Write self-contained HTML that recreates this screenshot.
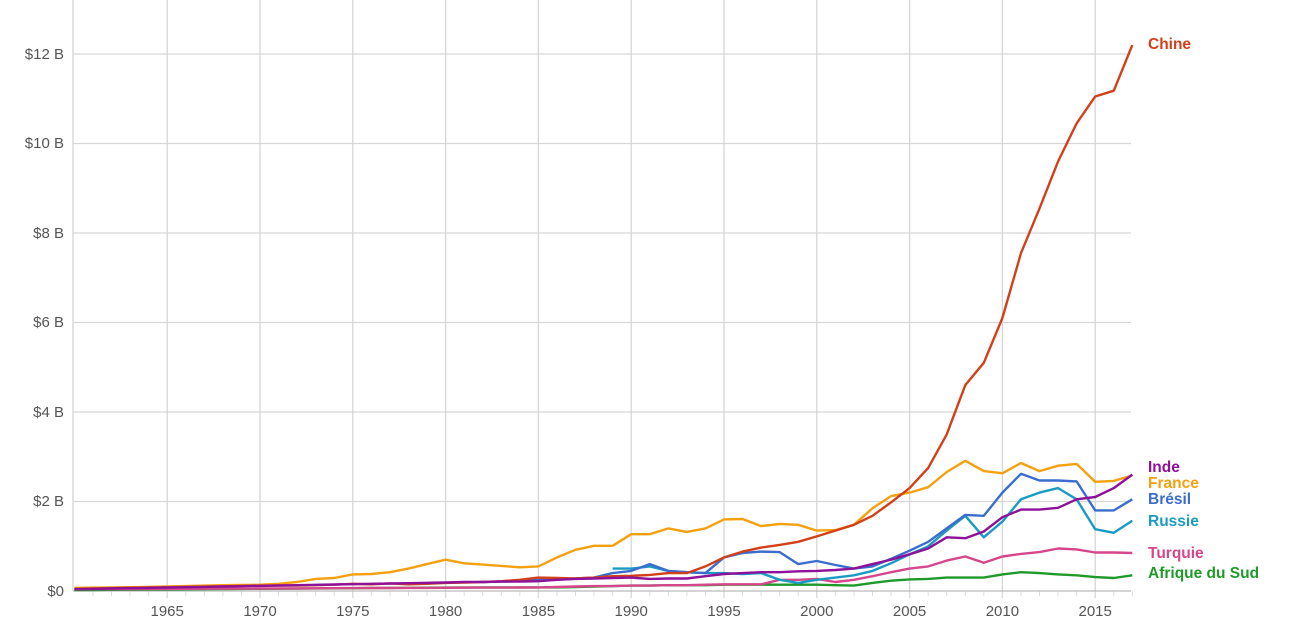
<!DOCTYPE html><html><head><meta charset="utf-8"><style>body{margin:0;background:#fff;}svg{display:block}text{font-family:"Liberation Sans",Arial,sans-serif}</style></head><body>
<svg id="c" width="1289" height="625" xmlns="http://www.w3.org/2000/svg">
<g id="grid"></g><g id="lines"></g>
<g font-size="15" fill="#555" text-anchor="end">
<text x="64" y="596">$0</text><text x="64" y="506">$2 B</text><text x="64" y="417">$4 B</text><text x="64" y="327">$6 B</text><text x="64" y="238">$8 B</text><text x="64" y="148">$10 B</text><text x="64" y="59">$12 B</text></g>
<g font-size="15" fill="#555" text-anchor="middle" id="xl"></g>
<g font-size="15.5" font-weight="bold">
<text x="1148" y="49" fill="#d2401a">Chine</text>
<text x="1148" y="472" fill="#8e1199">Inde</text>
<text x="1148" y="488" fill="#f5a00f">France</text>
<text x="1148" y="504" fill="#3b6dce">Brésil</text>
<text x="1148" y="526" fill="#1a9bc4">Russie</text>
<text x="1148" y="558" fill="#d6468a">Turquie</text>
<text x="1148" y="578" fill="#1f9a2a">Afrique du Sud</text></g>
</svg>
<script>
var NS="http://www.w3.org/2000/svg";
function X(y){return 74.4+(y-1960)*18.56}function Y(v){return 591-v*44.75}
var g=document.getElementById('grid'),xl=document.getElementById('xl');
function el(p,t,a){var e=document.createElementNS(NS,t);for(var k in a)e.setAttribute(k,a[k]);p.appendChild(e);return e}
for(var v=2;v<=12;v+=2)el(g,'line',{x1:73,x2:1131,y1:Y(v),y2:Y(v),stroke:'#d6d6d6','stroke-width':1.3});
el(g,'line',{x1:73,x2:73,y1:0,y2:591,stroke:'#d6d6d6','stroke-width':1.3});
for(var y=1965;y<=2015;y+=5){el(g,'line',{x1:X(y),x2:X(y),y1:0,y2:598,stroke:'#d6d6d6','stroke-width':1.3});var t=el(xl,'text',{x:X(y),y:616});t.textContent=y;}
for(var y=1961;y<=2017;y++)el(g,'line',{x1:X(y),x2:X(y),y1:591,y2:596,stroke:'#ddd'});
el(g,'line',{x1:73,x2:1131,y1:591,y2:591,stroke:'#bbb','stroke-width':1.3});
function lin(a,b,n,s){var r=[];for(var i=0;i<n;i++)r.push(+(a+(b-a)*i/(n-1)).toFixed(3));return r}
var S=[
['#1f9a2a',1960,lin(0.02,0.08,22).concat([0.08,0.08,0.08,0.08,0.08,0.09,0.1,0.11,0.12,0.12,0.13,0.13,0.13,0.14,0.14,0.14,0.14,0.14,0.14,0.13,0.12,0.18,0.23,0.26,0.27,0.3,0.3,0.3,0.37,0.42,0.4,0.37,0.35,0.31,0.29,0.35])],
['#d6468a',1960,lin(0.04,0.08,26).concat([0.09,0.1,0.11,0.11,0.12,0.12,0.13,0.13,0.14,0.15,0.15,0.15,0.25,0.25,0.27,0.2,0.25,0.33,0.42,0.5,0.55,0.68,0.77,0.63,0.77,0.83,0.87,0.95,0.93,0.86,0.86,0.85])],
['#1a9bc4',1989,[0.5,0.5,0.55,0.45,0.42,0.4,0.4,0.38,0.4,0.25,0.18,0.25,0.3,0.35,0.45,0.62,0.82,1.0,1.35,1.68,1.2,1.55,2.05,2.2,2.3,2.05,1.38,1.3,1.57]],
['#3b6dce',1982,[0.2,0.21,0.22,0.25,0.27,0.28,0.3,0.4,0.45,0.6,0.45,0.42,0.4,0.75,0.85,0.88,0.87,0.6,0.67,0.58,0.5,0.55,0.72,0.9,1.1,1.4,1.7,1.68,2.2,2.62,2.47,2.47,2.45,1.8,1.8,2.05]],
['#f5a00f',1960,[0.07,0.075,0.08,0.085,0.09,0.1,0.11,0.12,0.13,0.135,0.14,0.16,0.2,0.27,0.29,0.37,0.38,0.42,0.5,0.6,0.7,0.62,0.59,0.56,0.53,0.55,0.75,0.92,1.01,1.01,1.27,1.27,1.4,1.32,1.4,1.6,1.61,1.45,1.5,1.48,1.35,1.36,1.48,1.85,2.12,2.2,2.32,2.66,2.91,2.68,2.63,2.86,2.68,2.8,2.84,2.44,2.46,2.58]],
['#d2401a',1960,lin(0.05,0.12,11).concat([0.12,0.12,0.13,0.14,0.16,0.15,0.17,0.15,0.16,0.18,0.19,0.2,0.22,0.25,0.3,0.29,0.28,0.3,0.33,0.34,0.36,0.4,0.4,0.55,0.75,0.88,0.97,1.03,1.1,1.22,1.35,1.48,1.68,1.98,2.3,2.75,3.5,4.6,5.1,6.1,7.55,8.55,9.6,10.45,11.05,11.18,12.2])],
['#8e1199',1960,lin(0.04,0.19,21).concat([0.2,0.2,0.21,0.21,0.22,0.25,0.27,0.28,0.29,0.3,0.27,0.28,0.28,0.33,0.38,0.4,0.42,0.42,0.44,0.45,0.47,0.5,0.6,0.7,0.82,0.95,1.2,1.18,1.33,1.65,1.82,1.82,1.86,2.05,2.1,2.3,2.6])]];
var L=document.getElementById('lines');
S.forEach(function(s){var p=s[2].map(function(v,i){return X(s[1]+i).toFixed(1)+','+Y(v).toFixed(1)}).join(' ');
el(L,'polyline',{points:p,fill:'none',stroke:s[0],'stroke-width':2.4,'stroke-linejoin':'round'});});
</script>
</body></html>
